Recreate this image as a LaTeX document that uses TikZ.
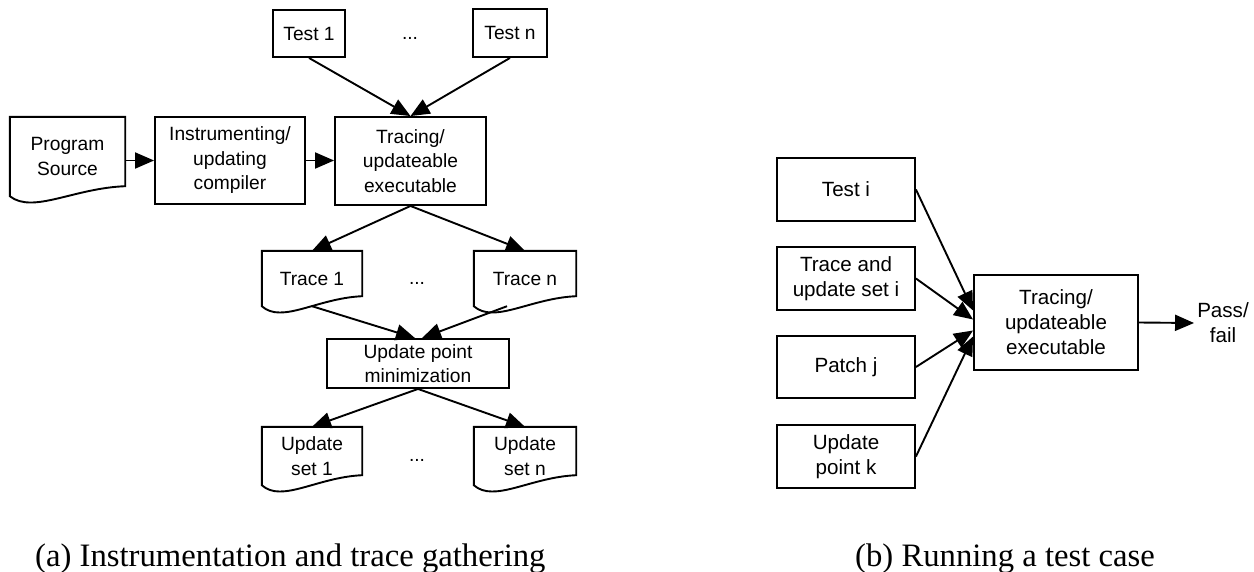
\documentclass[tikz,border=0pt]{standalone}
\usepackage{fontspec}
\setmainfont{Liberation Serif}
\newfontfamily\boxfont{Liberation Sans}
\usetikzlibrary{arrows.meta,calc}
\newcommand{\docoutline}[1]{%
  \draw[boxline] (#1.south west) -- (#1.north west) -- (#1.north east) -- ([yshift=10pt]#1.south east)
    .. controls ([yshift=8pt]$(#1.south west)!0.55!(#1.south east)$) and ([yshift=-18pt]$(#1.south west)!0.2!(#1.south east)$) .. (#1.south west) -- cycle;}
\begin{document}
\begin{tikzpicture}[x=1pt,y=-1pt,
  boxline/.style={line width=1.9pt, draw=black, line join=miter},
  txt/.style={align=center, font=\boxfont\fontsize{19.2}{24.5}\selectfont, inner sep=0pt},
  txtb/.style={align=center, font=\boxfont\fontsize{20.6}{25}\selectfont, inner sep=0pt},
  proc/.style={txt, boxline, rectangle},
  procb/.style={txtb, boxline, rectangle},
  doc/.style={txt, rectangle},
  arr/.style={line width=1.9pt, -{Triangle[length=19pt,width=16pt]}},
  dotsnode/.style={font=\boxfont\fontsize{19.2}{25}\selectfont, inner sep=0pt},
  captext/.style={font=\fontsize{32.7}{36}\selectfont, inner sep=0pt, anchor=base west}]
\useasboundingbox (0,0) rectangle (1254,571);

% ---- (a) ----
\node[proc, minimum width=72, minimum height=47] (t1) at (309,33.5) {Test 1};
\node[proc, minimum width=74, minimum height=48] (tn) at (510,33) {Test n};
\node[dotsnode] (da1) at (410,38) {...};
\node[doc, minimum width=115, minimum height=79] (ps) at (67.5,156.5) {Program\\Source};
\node[proc, minimum width=150, minimum height=87] (ic) at (230,160.5) {Instrumenting/\\updating\\compiler};
\node[proc, minimum width=151, minimum height=88] (tr) at (410.5,161) {Tracing/\\updateable\\executable};
\node[doc, minimum width=100, minimum height=55] (tr1) at (312,278.5) {Trace 1};
\node[doc, minimum width=102, minimum height=55] (trn) at (525,278.5) {Trace n};
\node[dotsnode] (da2) at (417,283) {...};
\node[proc, minimum width=182, minimum height=49] (upm) at (418,363.5) {Update point\\minimization};
\node[doc, minimum width=100, minimum height=58] (us1) at (312,456) {Update\\set 1};
\node[doc, minimum width=102, minimum height=58] (usn) at (525,456) {Update\\set n};
\node[dotsnode] (da3) at (417,460) {...};

\docoutline{ps}
\docoutline{tr1}
\docoutline{trn}
\docoutline{us1}
\docoutline{usn}

\draw[arr] (ps.east |- ic.west) -- (ic.west);
\draw[arr] (ic.east) -- (ic.east -| tr.west);
\draw[arr] (t1.south) -- (tr.north);
\draw[arr] (tn.south) -- (tr.north);
\draw[arr] (tr.south) -- (tr1.north);
\draw[arr] (tr.south) -- (trn.north);
\draw[arr] (tr1.south) -- ([xshift=-3pt]upm.north);
\draw[arr] ([xshift=-18pt]trn.south) -- ([xshift=4pt]upm.north);
\draw[arr] (upm.south) -- (us1.north);
\draw[arr] (upm.south) -- (usn.north);

% ---- (b) ----
\node[procb, minimum width=138, minimum height=63] (ti) at (846,189.5) {Test i};
\node[procb, minimum width=138, minimum height=63] (tu) at (846,278.5) {Trace and\\update set i};
\node[procb, minimum width=138, minimum height=62] (pj) at (846,367) {Patch j};
\node[procb, minimum width=138, minimum height=63] (uk) at (846,456.5) {Update\\point k};
\node[procb, minimum width=164, minimum height=95] (trb) at (1056,322.5) {Tracing/\\updateable\\executable};
\node[txtb, inner sep=3pt] (pf) at (1223,323) {Pass/\\fail};

\draw[arr] (ti.east) -- ([yshift=12pt]trb.west);
\draw[arr] (tu.east) -- ([yshift=3pt]trb.west);
\draw[arr] (pj.east) -- ([yshift=-8pt]trb.west);
\draw[arr] (uk.east) -- ([yshift=-14pt]trb.west);
\draw[arr] (trb.east) -- (pf.west);

% ---- captions ----
\node[captext] (capa) at (35,566) {(a) Instrumentation and trace gathering};
\node[captext] (capb) at (855,566) {(b) Running a test case};
\end{tikzpicture}
\end{document}
